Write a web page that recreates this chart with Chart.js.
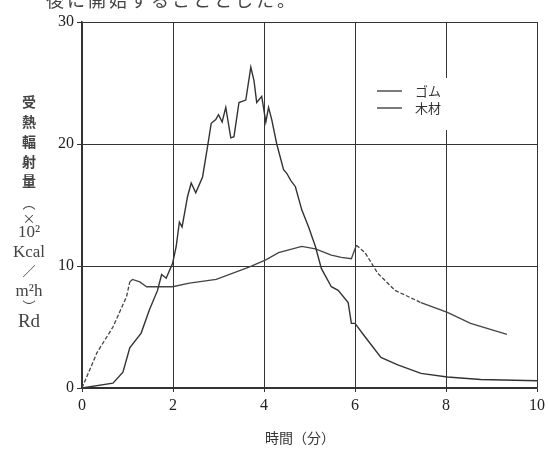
<!DOCTYPE html>
<html>
<head>
<meta charset="utf-8">
<script src="https://cdn.jsdelivr.net/npm/chart.js@4"></script>
<style>
  body { margin: 0; background: #fff; overflow: hidden; }
  #wrap { position: relative; width: 549px; height: 451px; }
  #cut { position: absolute; left: 46px; top: -14px; font: 18px "Noto Sans CJK JP"; color: #444; letter-spacing: 3px; }
</style>
</head>
<body>
<div id="wrap">
  <div id="cut">後に開始することとした。</div>
  <canvas id="myChart" width="549" height="451"></canvas>
</div>
<script>
// ゴム（時間, 受熱輻射量）
const rubberX = [0, 0.68, 0.9, 1.05, 1.3, 1.48, 1.66, 1.75, 1.85, 1.99, 2.07, 2.14, 2.2, 2.32, 2.4, 2.5, 2.65, 2.76, 2.84, 2.94, 3.0, 3.08, 3.16, 3.27, 3.34, 3.45, 3.6, 3.71, 3.78, 3.84, 3.95, 4.04, 4.1, 4.17, 4.28, 4.43, 4.5, 4.59, 4.69, 4.83, 4.98, 5.13, 5.26, 5.48, 5.63, 5.85, 5.92, 6.0, 6.22, 6.57, 6.94, 7.45, 8.03, 8.76, 10];
const rubberY = [0, 0.4, 1.3, 3.3, 4.5, 6.4, 8.0, 9.3, 9.0, 10.2, 11.6, 13.6, 13.2, 15.7, 16.8, 16.0, 17.3, 19.8, 21.7, 22.0, 22.4, 21.8, 23.0, 20.5, 20.6, 23.4, 23.6, 26.3, 25.2, 23.4, 23.9, 21.8, 23.0, 22.0, 20.0, 17.9, 17.6, 17.0, 16.5, 14.6, 13.2, 11.6, 9.8, 8.3, 8.0, 7.0, 5.3, 5.3, 4.2, 2.5, 1.9, 1.2, 0.9, 0.7, 0.6];

// 木材
const woodX = [0, 0.33, 0.68, 0.98, 1.05, 1.11, 1.27, 1.42, 1.7, 1.99, 2.36, 2.95, 3.67, 4.04, 4.32, 4.83, 5.13, 5.48, 5.7, 5.92, 6.03, 6.22, 6.5, 6.88, 7.45, 8.03, 8.54, 9.34];
const woodY = [0, 2.9, 5.0, 7.5, 8.7, 8.9, 8.7, 8.3, 8.3, 8.3, 8.6, 8.9, 9.9, 10.5, 11.1, 11.6, 11.4, 10.9, 10.7, 10.6, 11.7, 11.1, 9.4, 8.0, 7.0, 6.2, 5.3, 4.4];

const xTicks = [0, 2, 4, 6, 8, 10];
const yTicks = [0, 10, 20, 30];
const seriesNames = ['ゴム', '木材'];
const yTitleLines = ['受', '熱', '輻', '射', '量', '︵', '×', '10²', 'Kcal', '／', 'm²h', '︶', 'Rd'];
const xTitle = '時間（分）';

const toPoints = (xs, ys) => xs.map((x, i) => ({ x: x, y: ys[i] }));

const ink = '#333';

// 印刷のかすれで点線に見える区間
const faded = ctx => {
  const x0 = ctx.p0.parsed.x;
  return (x0 < 1.0 || (x0 >= 6.03 && x0 < 7.4)) ? [4, 2] : undefined;
};

// 軸タイトル・凡例を描く
const extras = {
  id: 'extras',
  afterDraw(chart) {
    const c = chart.ctx;
    c.save();
    // 凡例（グリッドを隠す白地）
    c.fillStyle = '#fff';
    c.fillRect(372, 78, 92, 52);
    c.strokeStyle = ink;
    c.lineWidth = 1.3;
    c.fillStyle = ink;
    c.font = '13px "Noto Sans CJK JP"';
    c.textBaseline = 'middle';
    seriesNames.forEach((name, i) => {
      const y = 91 + i * 17;
      c.beginPath();
      c.moveTo(377, y);
      c.lineTo(402, y);
      c.stroke();
      c.fillText(name, 415, y);
    });
    // y軸タイトル
    c.textAlign = 'center';
    c.fillStyle = '#444';
    const yPos = [102, 122, 142, 162, 181, 203, 218, 233, 253, 271, 292, 306, 322];
    yTitleLines.forEach((t, i) => {
      if (i < 5) c.font = 'bold 14px "Noto Sans CJK JP"';
      else if (t === '×' || t === '／' || t === '︵' || t === '︶') c.font = '13px "Noto Sans CJK JP"';
      else c.font = (t === 'Rd' ? '19px' : '17px') + ' "Liberation Serif"';
      c.fillText(t, 29, yPos[i]);
    });
    // x軸タイトル
    c.fillStyle = ink;
    c.font = '14px "Noto Sans CJK JP"';
    c.fillText(xTitle, 300, 438);
    c.restore();
  }
};

new Chart(document.getElementById('myChart').getContext('2d'), {
  type: 'line',
  data: {
    datasets: [
      { label: seriesNames[0], data: toPoints(rubberX, rubberY), borderColor: ink, borderWidth: 1.4, pointRadius: 0, tension: 0 },
      { label: seriesNames[1], data: toPoints(woodX, woodY), borderColor: '#444', borderWidth: 1.3, pointRadius: 0, tension: 0,
        segment: { borderDash: faded } }
    ]
  },
  options: {
    responsive: false,
    animation: false,
    layout: { padding: { left: 0, right: 9, top: 22, bottom: 0 } },
    plugins: { legend: { display: false }, tooltip: { enabled: false } },
    scales: {
      x: {
        type: 'linear', min: 0, max: 10,
        afterBuildTicks: s => { s.ticks = xTicks.map(v => ({ value: v })); },
        afterFit: s => { s.height = 63; },
        grid: { color: ink, lineWidth: 1, tickLength: 4 },
        border: { color: ink, width: 1.5 },
        ticks: { color: '#222', font: { family: 'Liberation Serif', size: 16 }, padding: 4 }
      },
      y: {
        min: 0, max: 30,
        afterBuildTicks: s => { s.ticks = yTicks.map(v => ({ value: v })); },
        afterFit: s => { s.width = 82; },
        grid: { color: ink, lineWidth: 1, tickLength: 5 },
        border: { color: ink, width: 1.5 },
        ticks: { color: '#222', font: { family: 'Liberation Serif', size: 16 }, padding: 3 }
      }
    }
  },
  plugins: [extras]
});
</script>
</body>
</html>
